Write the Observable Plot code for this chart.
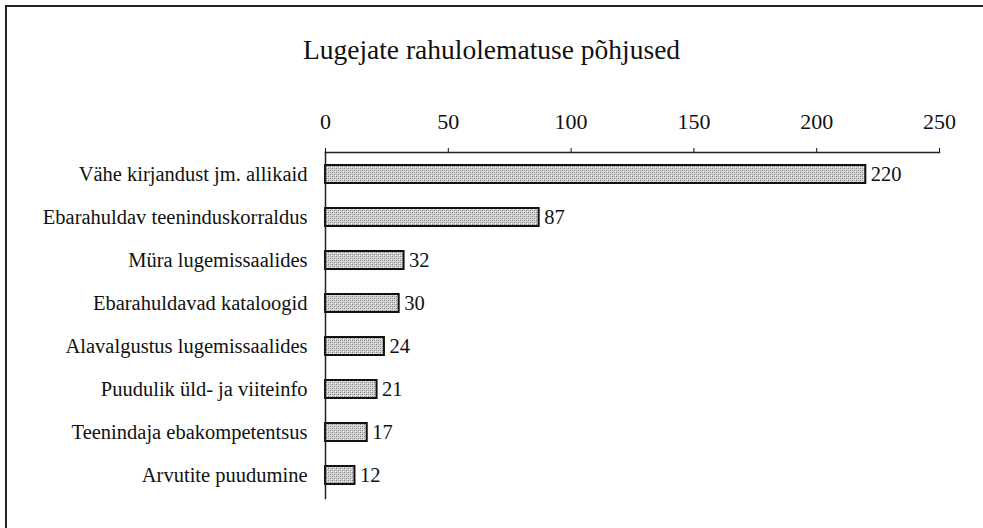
<!DOCTYPE html>
<html>
<head>
<meta charset="utf-8">
<script src="https://cdn.jsdelivr.net/npm/d3@7"></script>
<script src="https://cdn.jsdelivr.net/npm/@observablehq/plot@0.6"></script>
<style>
  html, body { margin: 0; padding: 0; background: #fff; }
  #wrap { position: relative; width: 983px; height: 528px; overflow: hidden; font-family: "Liberation Serif", "Times New Roman", serif; }
  #borderL { position: absolute; left: 5px; top: 5px; width: 2px; height: 530px; background: #222; }
  #borderT { position: absolute; left: 5px; top: 5px; width: 990px; height: 2px; background: #222; }
  #title { position: absolute; left: 0; top: 33px; width: 983px; text-align: center; font-size: 27.5px; color: #111; line-height: 34px; }
  #chart { position: absolute; left: 0; top: 80px; }
</style>
</head>
<body>
<div id="wrap">
  <div id="borderL"></div>
  <div id="borderT"></div>
  <div id="title">Lugejate rahulolematuse põhjused</div>
  <div id="chart"></div>
</div>
<script>
const categories = [
  "Vähe kirjandust jm. allikaid",
  "Ebarahuldav teeninduskorraldus",
  "Müra lugemissaalides",
  "Ebarahuldavad kataloogid",
  "Alavalgustus lugemissaalides",
  "Puudulik üld- ja viiteinfo",
  "Teenindaja ebakompetentsus",
  "Arvutite puudumine"
];
const values = [220, 87, 32, 30, 24, 21, 17, 12];
const xTicks = [0, 50, 100, 150, 200, 250];

const data = categories.map((c, i) => ({category: c, value: values[i]}));

const plot = Plot.plot({
  width: 983,
  height: 448,
  marginTop: 72,
  marginBottom: 30,
  marginLeft: 325,
  marginRight: 44,
  style: {fontFamily: "Liberation Serif, Times New Roman, serif", fontSize: "20.5px", color: "#111", background: "transparent"},
  x: {domain: [0, 250], ticks: xTicks, axis: "top", tickSize: 5, tickPadding: 19, label: null},
  y: {domain: categories, paddingInner: 0.58, paddingOuter: 0.29, tickSize: 0, tickPadding: 18, label: null},
  marks: [
    Plot.barX(data, {x: "value", y: "category", fill: "url(#dither)", stroke: "#111", strokeWidth: 2}),
    Plot.text(data, {x: "value", y: "category", text: d => String(d.value), textAnchor: "start", dx: 5, fontSize: 20.5, fill: "#111"}),
    Plot.frame({anchor: "top", stroke: "#222", strokeWidth: 1.5}),
    Plot.frame({anchor: "left", stroke: "#222", strokeWidth: 1.5})
  ]
});

// dither pattern for bar fill
const ns = "http://www.w3.org/2000/svg";
const defs = document.createElementNS(ns, "defs");
defs.innerHTML = `<pattern id="dither" width="4" height="4" patternUnits="userSpaceOnUse">
  <rect width="4" height="4" fill="#d0d0d0"/>
  <rect x="0" y="0" width="1" height="1" fill="#858585"/>
  <rect x="2" y="2" width="1" height="1" fill="#858585"/>
  <rect x="2" y="0" width="1" height="1" fill="#a8a8a8"/>
  <rect x="0" y="2" width="1" height="1" fill="#a8a8a8"/>
  <rect x="1" y="1" width="1" height="1" fill="#f0f0f0"/>
  <rect x="3" y="3" width="1" height="1" fill="#f0f0f0"/>
</pattern>`;
plot.insertBefore(defs, plot.firstChild);

// top axis tick label size
plot.querySelectorAll("g[aria-label^='x-axis']").forEach(el => { el.setAttribute("font-size", "22"); el.style.fontSize = "22px"; });

document.getElementById("chart").appendChild(plot);
</script>
</body>
</html>
